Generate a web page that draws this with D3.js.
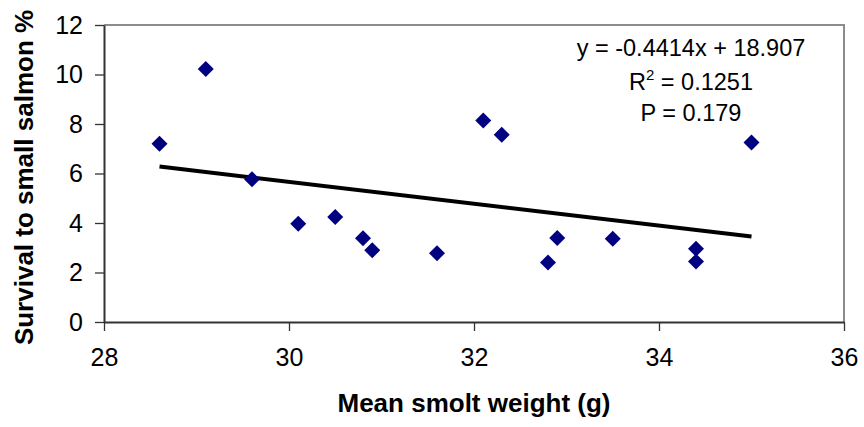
<!DOCTYPE html>
<html lang="en">
<head>
  <meta charset="UTF-8" />
  <title>Smolt weight vs survival</title>
  <script src="https://d3js.org/d3.v7.min.js"></script>
  <style>
    body { margin: 0; background: #fff; }
    text { font-family: Arial, "Liberation Sans", sans-serif; fill: #000; }
    .tick-label { font-size: 25px; }
    .axis-title { font-size: 26px; font-weight: bold; }
    .note { font-size: 23.5px; }
  </style>
</head>
<body>
  <div id="chart"></div>

  <script>
    // data
    const weights  = [28.6, 29.1, 29.6, 30.1, 30.5, 30.8, 30.9, 31.6, 32.1, 32.3, 32.8, 32.9, 33.5, 34.4, 34.4, 35.0];
    const survival = [7.2, 10.22, 5.77, 3.97, 4.24, 3.38, 2.9, 2.78, 8.14, 7.57, 2.4, 3.39, 3.36, 2.96, 2.44, 7.25];
    const xTicks = [28, 30, 32, 34, 36];
    const yTicks = [0, 2, 4, 6, 8, 10, 12];
    const slope = -0.4414, intercept = 18.907;
    const noteLines = ["y = -0.4414x + 18.907", "R2 = 0.1251", "P = 0.179"];

    const width = 864, height = 427;
    const margin = { top: 25, right: 20, bottom: 105, left: 104 };

    const svg = d3.select("#chart").append("svg")
      .attr("width", width)
      .attr("height", height);

    const x = d3.scaleLinear().domain([28, 36]).range([margin.left, width - margin.right]);
    const y = d3.scaleLinear().domain([0, 12]).range([height - margin.bottom, margin.top]);

    // plot frame (gray top / right)
    svg.append("path")
      .attr("d", `M${x(28)},${y(12)}H${x(36)}V${y(0)}`)
      .attr("fill", "none")
      .attr("stroke", "#8c8c8c")
      .attr("stroke-width", 2);

    // axes
    const xAxis = svg.append("g")
      .attr("transform", `translate(0,${y(0)})`)
      .call(d3.axisBottom(x).tickValues(xTicks).tickSize(9).tickSizeOuter(0).tickPadding(12));
    const yAxis = svg.append("g")
      .attr("transform", `translate(${x(28)},0)`)
      .call(d3.axisLeft(y).tickValues(yTicks).tickSize(9).tickSizeOuter(0).tickPadding(12));

    [xAxis, yAxis].forEach(g => {
      g.select(".domain").attr("stroke", "#333").attr("stroke-width", 2);
      g.selectAll(".tick line").attr("stroke", "#333").attr("stroke-width", 1.3);
      g.selectAll(".tick text")
        .attr("class", "tick-label")
        .attr("font-family", null)
        .attr("font-size", null)
        .attr("fill", "#000");
    });
    xAxis.selectAll(".tick text").attr("dy", "0.9em");

    // trend line
    const xr = d3.extent(weights);
    svg.append("line")
      .attr("x1", x(xr[0])).attr("y1", y(slope * xr[0] + intercept))
      .attr("x2", x(xr[1])).attr("y2", y(slope * xr[1] + intercept))
      .attr("stroke", "#000")
      .attr("stroke-width", 4);

    // diamonds
    const r = 8;
    svg.append("g").selectAll("path")
      .data(weights.map((w, i) => [w, survival[i]]))
      .join("path")
      .attr("transform", d => `translate(${x(d[0])},${y(d[1])})`)
      .attr("d", `M0,${-r}L${r},0L0,${r}L${-r},0Z`)
      .attr("fill", "#000080");

    // regression note
    const noteX = 691;
    svg.append("text").attr("class", "note")
      .attr("x", noteX).attr("y", 56).attr("text-anchor", "middle")
      .text(noteLines[0]);
    const r2 = svg.append("text").attr("class", "note")
      .attr("x", noteX).attr("y", 90).attr("text-anchor", "middle");
    r2.append("tspan").text("R");
    r2.append("tspan").attr("font-size", "15px").attr("dy", -10).text("2");
    r2.append("tspan").attr("dy", 10).text(" = 0.1251");
    svg.append("text").attr("class", "note")
      .attr("x", noteX).attr("y", 121).attr("text-anchor", "middle")
      .text(noteLines[2]);

    // axis titles
    svg.append("text").attr("class", "axis-title")
      .attr("x", x(32)).attr("y", 412)
      .attr("text-anchor", "middle")
      .text("Mean smolt weight (g)");
    svg.append("text").attr("class", "axis-title")
      .attr("transform", `translate(33,${(y(0) + y(12)) / 2 + 4}) rotate(-90)`)
      .attr("text-anchor", "middle")
      .text("Survival to small salmon %");
  </script>
</body>
</html>
